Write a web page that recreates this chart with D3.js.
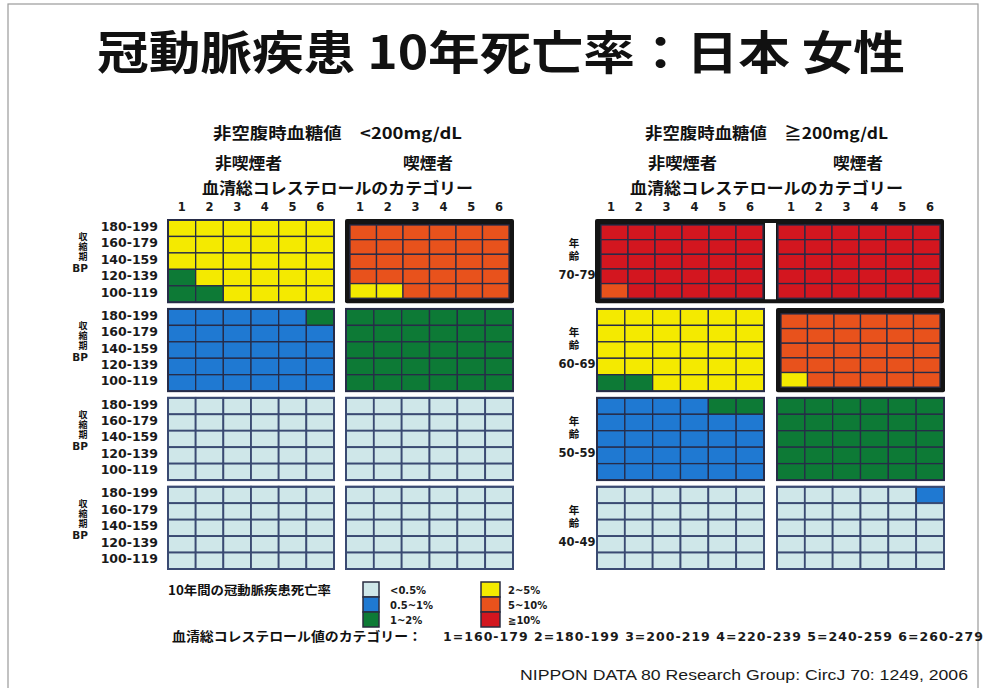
<!DOCTYPE html>
<html><head><meta charset="utf-8">
<script src="https://cdn.jsdelivr.net/npm/d3@7"></script>
<style>
html,body{margin:0;padding:0;background:#fff;}
svg{display:block;}
.cjk{font-family:"Noto Sans CJK JP","Noto Sans",sans-serif;font-weight:bold;fill:#111;}
.lat{font-family:"DejaVu Sans",sans-serif;font-weight:bold;fill:#1a1a1a;}
</style></head>
<body>
<svg id="c" width="987" height="688"></svg>
<script>
// ---------- data ----------
const bpLabels = ["180-199","160-179","140-159","120-139","100-119"];
const cholCats = [1,2,3,4,5,6];
const ageGroups = ["70-79","60-69","50-59","40-49"];
const riskLabels = ["<0.5%","0.5~1%","1~2%","2~5%","5~10%","≧10%"];
const cholRanges = ["1=160-179","2=180-199","3=200-219","4=220-239","5=240-259","6=260-279"];
// risk level index per cell (row = BP, top 180-199 … bottom 100-119; column = cholesterol category 1..6)
const lowNonSmoker = [
  ["333333","333333","333333","233333","223333"],
  ["111112","111111","111111","111111","111111"],
  ["000000","000000","000000","000000","000000"],
  ["000000","000000","000000","000000","000000"]
];
const lowSmoker = [
  ["444444","444444","444444","444444","334444"],
  ["222222","222222","222222","222222","222222"],
  ["000000","000000","000000","000000","000000"],
  ["000000","000000","000000","000000","000000"]
];
const highNonSmoker = [
  ["555555","555555","555555","555555","455555"],
  ["333333","333333","333333","333333","223333"],
  ["111122","111111","111111","111111","111111"],
  ["000000","000000","000000","000000","000000"]
];
const highSmoker = [
  ["555555","555555","555555","555555","555555"],
  ["444444","444444","444444","444444","344444"],
  ["222222","222222","222222","222222","222222"],
  ["000001","000000","000000","000000","000000"]
];

// ---------- style ----------
const riskColors = ["#cfe7e9","#1f79d2","#0d7a36","#f4ea00","#e8521c","#d3161f"];
const gridStroke = "#272c48";

const svg = d3.select("#c");
svg.append("rect").attr("x",8).attr("y",4).attr("width",970).attr("height",700)
  .attr("fill","none").attr("stroke","#9a9a9a").attr("stroke-width",1.2);

svg.append("text").attr("class","cjk").attr("x",97).attr("y",69)
  .attr("font-size",46).attr("font-weight",900).attr("textLength",808).attr("lengthAdjust","spacingAndGlyphs")
  .text("冠動脈疾患 10年死亡率：日本 女性");

const panelX = { lowNon:[168,334], lowSm:[346,513], highNon:[597,764], highSm:[777,944] };
const bandY = d3.scaleBand().domain(ageGroups).range([220,569]).paddingInner(0.075);
const panels = [
  {key:"lowNon", data:lowNonSmoker},
  {key:"lowSm", data:lowSmoker},
  {key:"highNon", data:highNonSmoker},
  {key:"highSm", data:highSmoker}
];
const framed = [["lowSm",0],["highNon",0],["highSm",0],["highSm",1]];
const isFramed = (k,a)=>framed.some(f=>f[0]===k&&f[1]===a);

ageGroups.forEach((ag,ai)=>{
  const y0 = bandY(ag), y1 = y0+bandY.bandwidth();
  if(ai===0){
    svg.append("rect").attr("x",panelX.highNon[0]-2).attr("y",y0-1)
      .attr("width",panelX.highSm[1]-panelX.highNon[0]+2).attr("height",y1-y0+2).attr("fill","#141414").attr("rx",2);
    svg.append("rect").attr("x",panelX.highNon[1]+1).attr("y",y0+3)
      .attr("width",panelX.highSm[0]-panelX.highNon[1]-2).attr("height",y1-y0-6).attr("fill","#fff");
  }
  panels.forEach(p=>{
    if(isFramed(p.key,ai) && !(ai===0 && (p.key==="highNon"||p.key==="highSm"))){
      svg.append("rect").attr("x",panelX[p.key][0]-1).attr("y",y0-1)
        .attr("width",panelX[p.key][1]-panelX[p.key][0]+2).attr("height",y1-y0+2).attr("fill","#141414").attr("rx",2);
    }
  });
});

panels.forEach(p=>{
  ageGroups.forEach((ag,ai)=>{
    let [x0,x1] = panelX[p.key];
    let y0 = bandY(ag), y1 = y0+bandY.bandwidth();
    if(isFramed(p.key,ai)){
      let il=4, ir=4;
      if(ai===0 && p.key==="highNon"){ ir=1; }
      if(ai===0 && p.key==="highSm"){ il=1; }
      x0+=il; x1-=ir; y0+=5; y1-=4;
    }
    const xs = d3.scaleBand().domain(cholCats).range([x0,x1]);
    const ys = d3.scaleBand().domain(bpLabels).range([y0,y1]);
    const g = svg.append("g");
    const cells = [];
    p.data[ai].forEach((row,ri)=>{
      row.split("").forEach((v,ci)=>cells.push({bp:bpLabels[ri],ch:cholCats[ci],lvl:+v}));
    });
    g.selectAll("rect.cell").data(cells).join("rect").attr("class","cell")
      .attr("x",d=>xs(d.ch)).attr("y",d=>ys(d.bp))
      .attr("width",xs.bandwidth()).attr("height",ys.bandwidth())
      .attr("fill",d=>riskColors[d.lvl])
      .attr("stroke",d=>d.lvl===0?"#3a4a72":gridStroke).attr("stroke-width",d=>d.lvl===0?1.8:1.3);
    if(!isFramed(p.key,ai)){
      g.append("rect").attr("x",x0).attr("y",y0).attr("width",x1-x0).attr("height",y1-y0)
        .attr("fill","none").attr("stroke",p.data[ai].join("").includes("0")?"#3a4a72":gridStroke).attr("stroke-width",2);
    }
    if(ai===0){
      const xn = d3.scaleBand().domain(cholCats).range(panelX[p.key]);
      svg.append("g").selectAll("text").data(cholCats).join("text").attr("class","lat")
        .attr("x",d=>xn(d)+xn.bandwidth()/2).attr("y",211).attr("text-anchor","middle")
        .attr("font-size",11.5).text(d=>d);
    }
  });
});

ageGroups.forEach(ag=>{
  const y0 = bandY(ag);
  const ys = d3.scaleBand().domain(bpLabels).range([y0,y0+bandY.bandwidth()]);
  svg.append("g").selectAll("text").data(bpLabels).join("text").attr("class","lat")
    .attr("x",158).attr("y",d=>ys(d)+ys.bandwidth()/2+2.5).attr("text-anchor","end")
    .attr("font-size",12.5).text(d=>d);
  // vertical label 収縮期
  svg.append("text").attr("class","cjk").attr("x",83).attr("y",y0+12)
    .attr("writing-mode","vertical-rl").style("writing-mode","vertical-rl")
    .attr("font-size",9).attr("letter-spacing",1).text("収縮期");
  svg.append("text").attr("class","lat").attr("x",80).attr("y",y0+52)
    .attr("text-anchor","middle").attr("font-size",10.5).text("BP");
  // vertical label 年齢
  svg.append("text").attr("class","cjk").attr("x",574).attr("y",y0+18)
    .attr("writing-mode","vertical-rl").style("writing-mode","vertical-rl")
    .attr("font-size",10.5).attr("letter-spacing",2.5).text("年齢");
  svg.append("text").attr("class","lat").attr("x",577).attr("y",y0+59)
    .attr("text-anchor","middle").attr("font-size",11.5).text(ag);
});

function cjkText(x,y,len,size,txt){
  return svg.append("text").attr("class","cjk").attr("x",x).attr("y",y).attr("font-size",size)
    .attr("textLength",len).attr("lengthAdjust","spacingAndGlyphs").text(txt);
}
cjkText(213,139,249,15.5,"非空腹時血糖値　<200mg/dL");
cjkText(645,139,243,15.5,"非空腹時血糖値　≧200mg/dL");
cjkText(215,169,67,16,"非喫煙者");
cjkText(403,169,50,16,"喫煙者");
cjkText(648,169,69,16,"非喫煙者");
cjkText(833,169,50,16,"喫煙者");
cjkText(202,194,271,16,"血清総コレステロールのカテゴリー");
cjkText(630,194,273,16,"血清総コレステロールのカテゴリー");

cjkText(168,595,163,12.5,"10年間の冠動脈疾患死亡率");
const legCols = [{x:363,w:16,lx:390},{x:481,w:19,lx:508}];
riskLabels.forEach((lab,i)=>{
  const c = legCols[Math.floor(i/3)], r = i%3;
  svg.append("rect").attr("x",c.x).attr("y",582+r*15).attr("width",c.w).attr("height",15)
    .attr("fill",riskColors[i]).attr("stroke","#2a2d40").attr("stroke-width",1.5);
  svg.append("text").attr("class","lat").attr("x",c.lx).attr("y",582+r*15+11.5)
    .attr("font-size",10).text(lab);
});

cjkText(172,641,250,13,"血清総コレステロール値のカテゴリー：");
svg.append("text").attr("class","lat").attr("x",443).attr("y",641).attr("font-size",12.5)
  .attr("textLength",540).attr("lengthAdjust","spacing").text(cholRanges.join(" "));
svg.append("text").attr("x",520).attr("y",680).attr("font-size",14)
  .attr("font-family","Liberation Sans Narrow, Liberation Sans, sans-serif").attr("fill","#1a1a1a")
  .attr("textLength",448).attr("lengthAdjust","spacingAndGlyphs")
  .text("NIPPON DATA 80 Research Group: CircJ 70: 1249, 2006");
</script>
</body></html>
